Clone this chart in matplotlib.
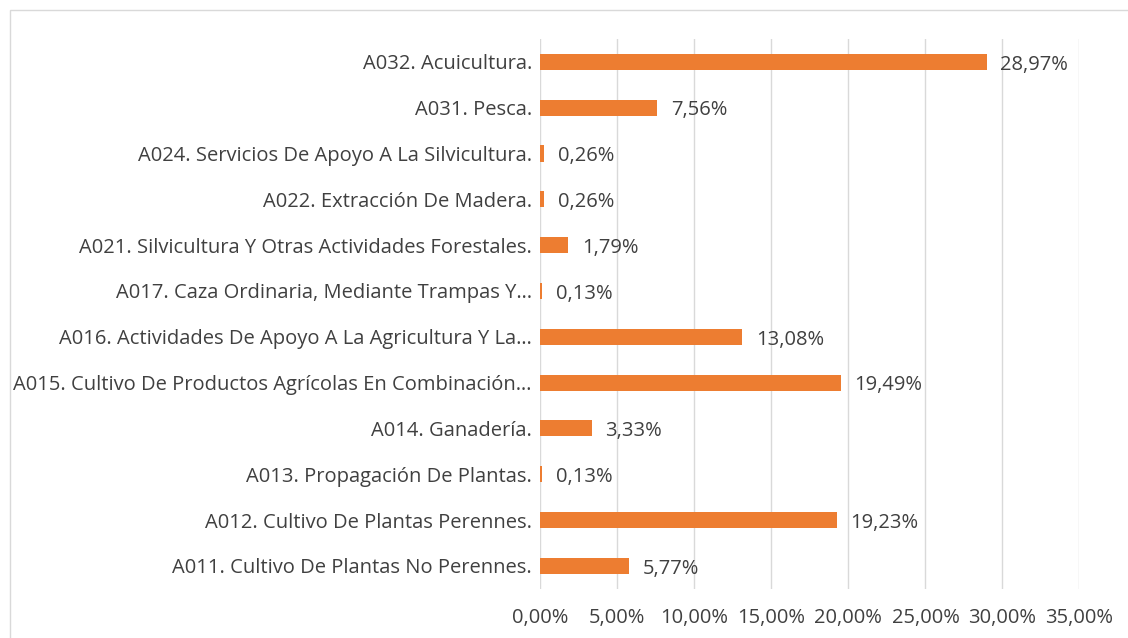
import matplotlib.pyplot as plt
import numpy as np

plt.rcParams['font.family'] = ['Open Sans', 'DejaVu Sans']

categories = [
    "A011. Cultivo De Plantas No Perennes.",
    "A012. Cultivo De Plantas Perennes.",
    "A013. Propagación De Plantas.",
    "A014. Ganadería.",
    "A015. Cultivo De Productos Agrícolas En Combinación…",
    "A016. Actividades De Apoyo A La Agricultura Y La…",
    "A017. Caza Ordinaria, Mediante Trampas Y…",
    "A021. Silvicultura Y Otras Actividades Forestales.",
    "A022. Extracción De Madera.",
    "A024. Servicios De Apoyo A La Silvicultura.",
    "A031. Pesca.",
    "A032. Acuicultura.",
]
values = [5.77, 19.23, 0.13, 3.33, 19.49, 13.08, 0.13, 1.79, 0.26, 0.26, 7.56, 28.97]
xticks = [0, 5, 10, 15, 20, 25, 30, 35]

fig = plt.figure(figsize=(11.28, 6.38), dpi=100)
ax = fig.add_axes([0.479, 0.077, 0.478, 0.862])

y = np.arange(len(categories))
ax.barh(y, values, height=0.35, color='#ED7D31', zorder=3)

for yi, v in zip(y, values):
    ax.annotate(f"{v:.2f}%".replace('.', ','), (v, yi), xytext=(10, -2),
                textcoords='offset points', va='center', ha='left',
                fontsize=14.5, color='#404040')

ax.set_xlim(0, 35)
ax.set_ylim(-0.5, len(categories) - 0.5)
ax.set_xticks(xticks)
ax.set_xticklabels([f"{t:.2f}%".replace('.', ',') for t in xticks])
ax.set_yticks(y)
ax.set_yticklabels(categories)
ax.tick_params(axis='both', length=0, labelsize=14.5, colors='#404040')
ax.tick_params(axis='y', pad=6)
ax.tick_params(axis='x', pad=14)
ax.grid(axis='x', color='#D9D9D9', linewidth=1, zorder=0)
for s in ax.spines.values():
    s.set_visible(False)

# light frame around the chart area
fig.patches.append(plt.Rectangle((0.009, -0.01), 1.0, 0.995, transform=fig.transFigure,
                                 fill=False, edgecolor='#D9D9D9', linewidth=1))

fig.savefig('out.png', dpi=100)
